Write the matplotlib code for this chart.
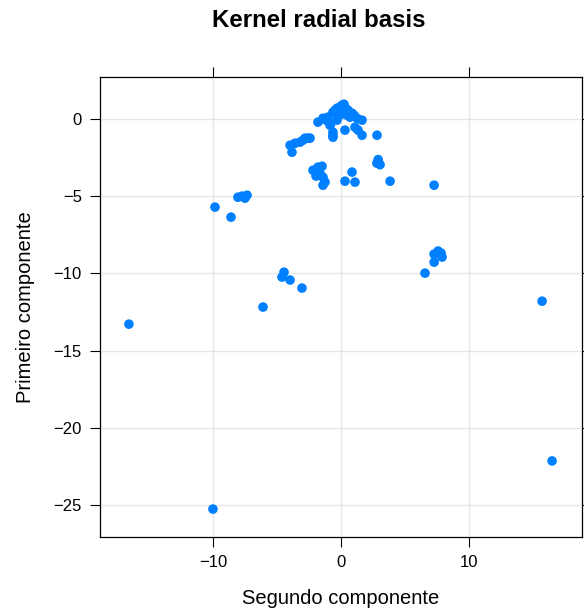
import numpy as np
import matplotlib.pyplot as plt

plt.rcParams['font.family'] = ['Liberation Sans', 'DejaVu Sans']

# segundo componente (x) / primeiro componente (y)
seg_comp = [-16.56, -10.0, 16.48, 15.70, -9.84, -8.59, -8.05, -7.73, -7.50, -7.34,
            -6.09, -4.61, -4.45, -3.98, -3.05,
            3.83, 7.27, 7.58, 7.81, 7.27, 7.89, 7.27, 6.56,
            2.90, 3.05, 2.80, 0.86, 0.31, 1.09, 2.81,
            -3.98, -3.83, -3.59, -3.20, -2.81, -2.58, -2.42, -2.97,
            -2.19, -1.80, -1.48, -1.64, -1.41, -1.25, -1.41, -1.95,
            -1.80, -1.41, -1.02, -0.63, -0.31, 0.08, 0.31, 0.55, 0.86, 1.25, 1.64,
            -0.86, -0.63, -0.63, 0.31, 1.09, 1.33, 1.64,
            -0.31, -0.08, 0.47, 0.70, -0.63, -0.47, -0.08, 0.23, -1.17, -0.78,
            0.16, 1.02]
prim_comp = [-13.29, -25.28, -22.16, -11.80, -5.70, -6.35, -5.06, -4.99, -5.12, -4.93,
             -12.18, -10.24, -9.92, -10.43, -10.95,
             -4.02, -4.28, -8.55, -8.68, -8.75, -8.94, -9.27, -9.98,
             -2.62, -2.95, -2.85, -3.43, -4.02, -4.08, -1.04,
             -1.69, -2.14, -1.56, -1.49, -1.23, -1.23, -1.23, -1.36,
             -3.31, -3.11, -3.05, -3.50, -3.76, -4.08, -4.28, -3.69,
             -0.19, 0.06, 0.13, 0.45, 0.71, 0.91, 0.78, 0.58, 0.39, 0.06, -0.06,
             -0.39, -0.84, -1.17, -0.71, -0.52, -0.71, -1.04,
             -0.06, 0.26, 0.26, 0.13, -1.04, 0.58, 0.78, 0.97, -0.06, -0.26,
             0.45, 0.26]

xticks = [-10, 0, 10]
yticks = [0, -5, -10, -15, -20, -25]

fig = plt.figure(figsize=(5.84, 6.13), dpi=100)
ax = fig.add_axes([0.171, 0.124, 0.825, 0.750])

ax.scatter(seg_comp, prim_comp, s=48, color='#0080ff', edgecolors='none', zorder=3)

ax.set_xlim(-18.83, 18.79)
ax.set_ylim(-27.09, 2.72)
ax.set_xticks(xticks)
ax.set_yticks(yticks)
ax.set_xticklabels(['\u221210', '0', '10'])
ax.set_yticklabels(['0', '\u22125', '\u221210', '\u221215', '\u221220', '\u221225'])
ax.grid(True, color='#e6e6e6', linewidth=1, zorder=0)
ax.tick_params(direction='out', length=7, width=0.8, labelsize=12,
               top=True, right=True, labeltop=False, labelright=False, pad=6)
for sp in ax.spines.values():
    sp.set_linewidth(0.9)

ax.set_xlabel('Segundo componente', fontsize=14.5, labelpad=14)
ax.set_ylabel('Primeiro componente', fontsize=14.5, labelpad=13)
fig.text(0.545, 0.985, 'Kernel radial basis', fontsize=17.3, fontweight='bold',
         ha='center', va='top')

fig.savefig('out.png', dpi=100)
